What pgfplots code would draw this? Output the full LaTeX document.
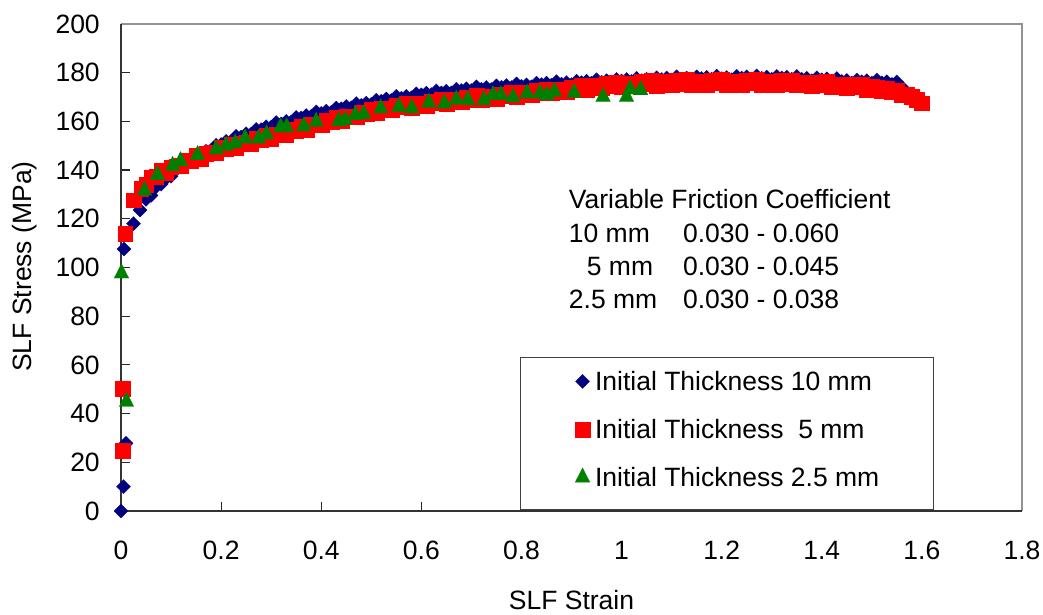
\documentclass[border=0pt]{standalone}
\usepackage{fontspec}
\setmainfont{Liberation Sans}
\usepackage{pgfplots}
\pgfplotsset{compat=1.18}
\definecolor{bluS}{HTML}{000080}
\definecolor{redS}{HTML}{FF0000}
\definecolor{greS}{HTML}{008000}
\newcommand\cf{\fontsize{13.25}{16}\selectfont}
\begin{document}
\begin{tikzpicture}
\begin{axis}[
  scale only axis, width=450.5pt, height=243.5pt,
  xmin=0, xmax=1.8, ymin=0, ymax=200,
  xtick={0,0.2,0.4,0.6,0.8,1,1.2,1.4,1.6,1.8},
  ytick={0,20,40,60,80,100,120,140,160,180,200},
  xtick pos=bottom, ytick pos=left,
  tick align=inside, major tick length=4.5pt,
  tick style={draw=black!85, line width=0.6pt},
  axis line style={draw=none},
  clip=false,
  /pgf/number format/assume math mode=true,
  every tick label/.append style={font=\cf},
  xticklabel style={anchor=center, yshift=-19.5pt},
  yticklabel style={anchor=east, xshift=-7.1pt},
  legend cell align=left,
  legend image code/.code={\path[draw=none, fill=none] (-3.75pt,-3pt) rectangle (3.75pt,3pt);
    \draw[#1, yshift=2pt] plot coordinates {(0pt,0pt)};},
  legend style={at={(rel axis cs:0.4428,0.002)}, anchor=south west,
    draw=black!75, line width=0.6pt, fill=white, font=\cf,
    inner xsep=27.25pt, inner ysep=2pt, row sep=0pt, column sep=2.5pt,
    nodes={inner sep=0pt, text height=14.75pt, text depth=9.25pt}},
]
\draw[gray!85, line width=0.9pt] (rel axis cs:0,1) -- (rel axis cs:1,1) -- (rel axis cs:1,0);
\draw[black!80, line width=1pt] (rel axis cs:0,1) -- (rel axis cs:0,0) -- (rel axis cs:1,0);

\addplot[only marks, color=bluS, mark=square*, mark size=2.5pt, mark options={rotate=45, solid, draw=bluS, fill=bluS, line width=0.1pt}] coordinates {
(0,0) (0.005,10) (0.01,27.8) (0.006,107.6) (0.025,118) (0.038,123.6)
(0.05,128.0) (0.06,129.6) (0.07,133.2) (0.08,134.2) (0.09,136.6) (0.10,137.5)
(0.11,140.4) (0.12,141.2) (0.13,143.1) (0.14,143.5) (0.15,146.0) (0.16,146.1)
(0.17,147.7) (0.18,147.9) (0.19,150.2) (0.20,150.5) (0.21,151.8) (0.22,151.7)
(0.23,153.9) (0.24,153.6) (0.25,154.9) (0.26,154.7) (0.27,156.7) (0.28,156.6)
(0.29,157.8) (0.30,157.6) (0.31,159.5) (0.32,159.0) (0.33,160.0) (0.34,159.7)
(0.35,161.6) (0.36,161.4) (0.37,162.4) (0.38,162.1) (0.39,163.9) (0.40,163.3)
(0.41,164.2) (0.42,163.7) (0.43,165.5) (0.44,165.2) (0.45,166.1) (0.46,165.6)
(0.47,167.3) (0.48,166.6) (0.49,167.5) (0.50,167.0) (0.51,168.7) (0.52,168.3)
(0.53,169.2) (0.54,168.6) (0.55,170.3) (0.56,169.5) (0.57,170.3) (0.58,169.7)
(0.59,171.3) (0.60,170.9) (0.61,171.6) (0.62,171.0) (0.63,172.5) (0.64,171.7)
(0.65,172.4) (0.66,171.7) (0.67,173.2) (0.68,172.7) (0.69,173.4) (0.70,172.7)
(0.71,174.2) (0.72,173.2) (0.73,173.9) (0.74,173.1) (0.75,174.6) (0.76,174.0)
(0.77,174.7) (0.78,173.9) (0.79,175.4) (0.80,174.4) (0.81,175.0) (0.82,174.2)
(0.83,175.7) (0.84,175.1) (0.85,175.7) (0.86,174.9) (0.87,176.3) (0.88,175.3)
(0.89,175.9) (0.90,175.1) (0.91,176.5) (0.92,175.9) (0.93,176.5) (0.94,175.7)
(0.95,177.1) (0.96,176.1) (0.97,176.7) (0.98,175.8) (0.99,177.2) (1.00,176.6)
(1.01,177.2) (1.02,176.4) (1.03,177.7) (1.04,176.7) (1.05,177.3) (1.06,176.5)
(1.07,177.9) (1.08,177.2) (1.09,177.8) (1.10,177.0) (1.11,178.3) (1.12,177.3)
(1.13,177.8) (1.14,177.0) (1.15,178.3) (1.16,177.6) (1.17,178.1) (1.18,177.3)
(1.19,178.6) (1.20,177.5) (1.21,178.0) (1.22,177.1) (1.23,178.5) (1.24,177.8)
(1.25,178.3) (1.26,177.4) (1.27,178.7) (1.28,177.7) (1.29,178.2) (1.30,177.3)
(1.31,178.5) (1.32,177.8) (1.33,178.2) (1.34,177.3) (1.35,178.5) (1.36,177.3)
(1.37,177.7) (1.38,176.7) (1.39,177.9) (1.40,177.1) (1.41,177.5) (1.42,176.5)
(1.43,177.6) (1.44,176.4) (1.45,176.8) (1.46,175.8) (1.47,177.0) (1.48,176.3)
(1.49,176.7) (1.50,175.7) (1.51,177.0) (1.52,175.8) (1.53,176.3) (1.54,175.2)
(1.55,176.2) (1.56,174.0)
};
\addlegendentry{Initial Thickness 10 mm}

\addplot[only marks, color=redS, mark=square*, mark size=3.7pt, mark options={solid, draw=redS, fill=redS, line width=0.1pt}] coordinates {
(0.003,24.8) (0.003,50.4) (0.008,113.8) (0.025,127.7) (0.04,132.5)
(0.05,134.2) (0.06,137.1) (0.07,137.3) (0.08,139.7) (0.09,138.9) (0.10,141.2)
(0.11,141.6) (0.12,141.7) (0.13,144.0) (0.14,143.9) (0.15,146.0) (0.16,144.8)
(0.17,146.8) (0.18,147.1) (0.19,147.0) (0.20,149.2) (0.21,148.7) (0.22,150.6)
(0.23,149.2) (0.24,151.1) (0.25,151.2) (0.26,150.9) (0.27,152.9) (0.28,152.3)
(0.29,154.1) (0.30,152.7) (0.31,154.6) (0.32,154.8) (0.33,154.5) (0.34,156.6)
(0.35,156.2) (0.36,158.1) (0.37,156.7) (0.38,158.6) (0.39,158.7) (0.40,158.5)
(0.41,160.5) (0.42,160.0) (0.43,161.8) (0.44,160.4) (0.45,162.2) (0.46,162.2)
(0.47,161.9) (0.48,163.8) (0.49,163.3) (0.50,165.0) (0.51,163.5) (0.52,165.2)
(0.53,165.2) (0.54,164.8) (0.55,166.7) (0.56,165.9) (0.57,167.5) (0.58,165.8)
(0.59,167.4) (0.60,167.2) (0.61,166.6) (0.62,168.3) (0.63,167.6) (0.64,169.1)
(0.65,167.4) (0.66,168.9) (0.67,168.7) (0.68,168.1) (0.69,169.8) (0.70,169.0)
(0.71,170.5) (0.72,168.8) (0.73,170.3) (0.74,170.1) (0.75,169.5) (0.76,171.2)
(0.77,170.4) (0.78,171.9) (0.79,170.2) (0.80,171.7) (0.81,171.5) (0.82,170.9)
(0.83,172.6) (0.84,171.8) (0.85,173.3) (0.86,171.6) (0.87,173.1) (0.88,172.9)
(0.89,172.3) (0.90,174.0) (0.91,173.2) (0.92,174.7) (0.93,173.1) (0.94,174.6)
(0.95,174.4) (0.96,173.7) (0.97,175.4) (0.98,174.5) (0.99,176.0) (1.00,174.2)
(1.01,175.6) (1.02,175.3) (1.03,174.6) (1.04,176.2) (1.05,175.3) (1.06,176.7)
(1.07,174.8) (1.08,176.2) (1.09,175.8) (1.10,175.1) (1.11,176.6) (1.12,175.6)
(1.13,177.0) (1.14,175.1) (1.15,176.4) (1.16,176.0) (1.17,175.2) (1.18,176.7)
(1.19,175.7) (1.20,177.0) (1.21,175.1) (1.22,176.4) (1.23,176.0) (1.24,175.2)
(1.25,176.7) (1.26,175.7) (1.27,177.0) (1.28,175.1) (1.29,176.4) (1.30,176.0)
(1.31,175.2) (1.32,176.6) (1.33,175.6) (1.34,176.8) (1.35,174.9) (1.36,176.1)
(1.37,175.6) (1.38,174.7) (1.39,176.1) (1.40,175.0) (1.41,176.2) (1.42,174.2)
(1.43,175.3) (1.44,174.8) (1.45,173.9) (1.46,175.3) (1.47,174.1) (1.48,175.3)
(1.49,173.2) (1.50,174.4) (1.51,173.8) (1.52,172.7) (1.53,173.7) (1.54,172.2)
(1.55,172.5) (1.56,171.0) (1.57,171.2) (1.58,170.2) (1.59,169.0) (1.60,167.5)
};
\addlegendentry{Initial Thickness~~5 mm}

\addplot[only marks, color=greS, mark=triangle*, mark size=4.25pt, mark options={solid, draw=greS, fill=greS, line width=0.1pt, yscale=1.13}] coordinates {
(0.001,97.6) (0.011,44.9) (0.047,131.6) (0.073,138.0) (0.103,141.7) (0.119,143.7)
(0.153,146.2) (0.190,148.5) (0.210,150.0) (0.228,151.0) (0.248,153.0) (0.275,153.0)
(0.291,154.7) (0.319,157.6) (0.331,157.6) (0.365,158.0) (0.390,159.9) (0.435,160.1)
(0.448,160.6) (0.468,162.6) (0.485,163.0) (0.519,165.4) (0.555,166.0) (0.581,165.4)
(0.615,167.7) (0.646,167.4) (0.670,169.0) (0.693,168.8) (0.725,168.8) (0.743,170.8)
(0.759,170.8) (0.783,169.9) (0.811,171.5) (0.837,171.5) (0.851,170.8) (0.866,172.2)
(0.905,171.8) (0.963,170.1) (1.010,170.1) (1.017,173.2) (1.038,172.9)
};
\addlegendentry{Initial Thickness 2.5 mm}

\node[anchor=base west, inner sep=0pt, font=\cf] at (axis cs:0.894,124.3) {Variable Friction Coefficient};
\node[anchor=base west, inner sep=0pt, font=\cf] at (axis cs:0.894,110.3) {10 mm};
\node[anchor=base west, inner sep=0pt, font=\cf] at (axis cs:0.930,96.9) {5 mm};
\node[anchor=base west, inner sep=0pt, font=\cf] at (axis cs:0.894,83.2) {2.5 mm};
\node[anchor=base west, inner sep=0pt, font=\cf] at (axis cs:1.122,110.3) {0.030 - 0.060};
\node[anchor=base west, inner sep=0pt, font=\cf] at (axis cs:1.122,96.9) {0.030 - 0.045};
\node[anchor=base west, inner sep=0pt, font=\cf] at (axis cs:1.122,83.2) {0.030 - 0.038};

\node[rotate=90, anchor=center, font=\cf] at (rel axis cs:-0.1071,0.502) {SLF Stress (MPa)};
\node[anchor=center, font=\cf] at (rel axis cs:0.5,-0.1828) {SLF Strain};
\end{axis}
\pgfresetboundingbox
\useasboundingbox (-60.5pt,-52pt) rectangle (461pt,255.5pt);
\end{tikzpicture}
\end{document}
